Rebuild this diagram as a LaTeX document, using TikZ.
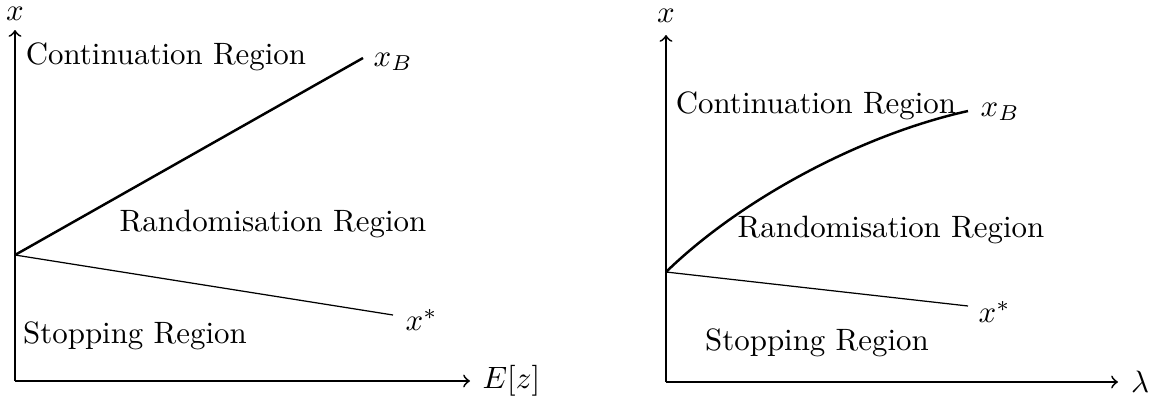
\documentclass[tikz,border=0pt]{standalone}
\begin{document}
\begin{tikzpicture}[x=0.3237pt,y=-0.3237pt,
  axis/.style={->,line width=0.6pt},
  bound/.style={line width=0.8pt},
  thin bound/.style={line width=0.4pt},
  lbl/.style={inner sep=0pt}]
\useasboundingbox (0,0) rectangle (1160,401);
% left panel
\coordinate (O1) at (15,381);
\coordinate (Y1) at (15,30);
\coordinate (X1) at (470,381);
\coordinate (P1) at (15,255);
\coordinate (B1) at (363,58);
\coordinate (S1) at (393,315);
\draw[axis] (O1) -- (Y1);
\draw[axis] (O1) -- (X1);
\node[lbl] (ylab1) at (15,14) {$x$};
\node[lbl,anchor=west] (xlab1) at (482,381) {$E[z]$};
\draw[bound] (P1) -- (B1);
\draw[thin bound] (P1) -- (S1);
\node[lbl,anchor=west] (xb1) at (373,62) {$x_B$};
\node[lbl,anchor=west] (xs1) at (405,320) {$x^*$};
\node[lbl] (cr1) at (166,57) {Continuation Region};
\node[lbl] (rr1) at (273,224) {Randomisation Region};
\node[lbl] (sr1) at (135,336) {Stopping Region};
% right panel
\coordinate (O2) at (666,382);
\coordinate (Y2) at (666,35);
\coordinate (X2) at (1118,382);
\coordinate (P2) at (666,272);
\coordinate (B2) at (968,111);
\coordinate (S2) at (968,306);
\draw[axis] (O2) -- (Y2);
\draw[axis] (O2) -- (X2);
\node[lbl] (ylab2) at (666,16) {$x$};
\node[lbl] (xlab2) at (1140,382) {$\lambda$};
\node[lbl] (cr2) at (816,106) {Continuation Region};
\node[lbl] (rr2) at (891,230) {Randomisation Region};
\node[lbl] (sr2) at (817,343) {Stopping Region};
\draw[bound] (P2) .. controls (740,200) and (860,135) .. (B2);
\draw[thin bound] (P2) -- (S2);
\node[lbl,anchor=west] (xb2) at (980,112) {$x_B$};
\node[lbl,anchor=west] (xs2) at (978,312) {$x^*$};
\end{tikzpicture}
\end{document}
